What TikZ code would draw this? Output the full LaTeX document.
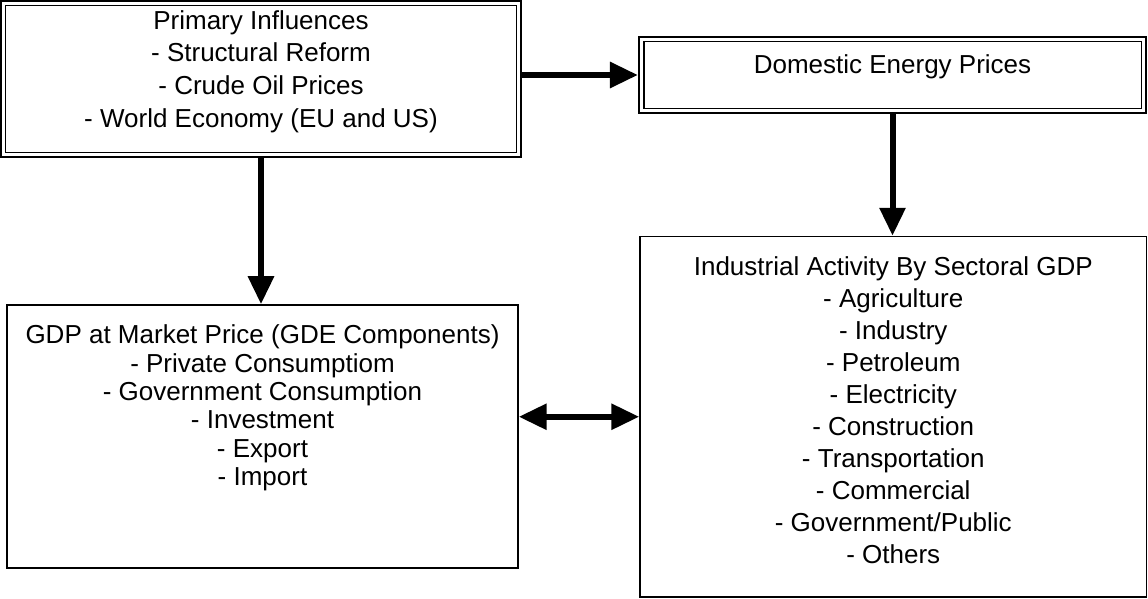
\documentclass[tikz,border=0pt]{standalone}
\usepackage{fontspec}
\setmainfont{Liberation Sans}
\usetikzlibrary{arrows.meta,positioning}

\tikzset{
  plainbox/.style={draw, line width=0.9pt, inner sep=0pt},
  dblbox/.style={draw, line width=1.3pt, inner sep=0pt,
    path picture={\draw[line width=0.6pt]
      ([shift={(2.8pt,-2.8pt)}]path picture bounding box.north west) rectangle
      ([shift={(-2.8pt,2.8pt)}]path picture bounding box.south east);}},
  boxtext/.style={align=center, inner sep=0pt},
  flow/.style={line width=3.4pt, -{Triangle[length=0.56cm,width=0.5cm]}},
  biflow/.style={line width=3.4pt, {Triangle[length=0.56cm,width=0.5cm]}-{Triangle[length=0.56cm,width=0.5cm]}},
}

\begin{document}
\begin{tikzpicture}[x=0.02cm, y=-0.02cm]
	%%%%% START %%%%%
	\useasboundingbox (0,0) rectangle (1148,598);
	
	\node[dblbox, minimum width=10.4cm, minimum height=3.12cm] (prim) at (261,79) {};
	\node[dblbox, minimum width=10.14cm, minimum height=1.52cm] (dep) at (892.5,75) {};
	\node[plainbox, minimum width=10.13cm, minimum height=7.21cm] (ind) at (893.25,416.75) {};
	\node[plainbox, minimum width=10.22cm, minimum height=5.26cm] (gdp) at (262.5,436.5) {};
	
	\node[boxtext, font=\fontsize{14.8}{18.7}\selectfont, below=0.2cm of prim.north] (primtxt)
		{Primary Influences\\- Structural Reform\\- Crude Oil Prices\\- World Economy (EU and US)};
	\node[boxtext, font=\fontsize{14.8}{18}\selectfont, below=0.36cm of dep.north] (deptxt)
		{Domestic Energy Prices};
	\node[boxtext, font=\fontsize{14.8}{18.2}\selectfont, below=0.42cm of ind.north] (indtxt)
		{Industrial Activity By Sectoral GDP\\- Agriculture\\- Industry\\- Petroleum\\- Electricity\\- Construction\\- Transportation\\- Commercial\\- Government/Public\\- Others};
	\node[boxtext, font=\fontsize{14.8}{16.1}\selectfont, below=0.41cm of gdp.north] (gdptxt)
		{GDP at Market Price (GDE Components)\\- Private Consumptiom\\- Government Consumption\\- Investment\\- Export\\- Import};
	
	\draw[flow] (prim.east |- dep.west) -- (dep.west);
	\draw[flow] (prim.south) -- (prim.south |- gdp.north);
	\draw[flow] (dep.south) -- (dep.south |- ind.north);
	\draw[biflow] (gdp.east |- ind.west) -- (ind.west);
	
	%%%%% END %%%%%
\end{tikzpicture}
\end{document}
